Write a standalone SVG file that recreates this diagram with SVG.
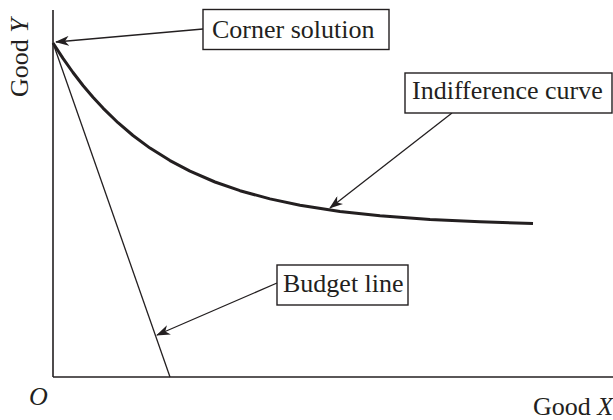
<svg xmlns="http://www.w3.org/2000/svg" width="613" height="420" viewBox="0 0 613 420">
<style>
.ax{stroke:#231f20;stroke-width:1.6;fill:none}
.thin{stroke:#231f20;stroke-width:1.3;fill:none}
.curve{stroke:#231f20;stroke-width:3;fill:none;stroke-linejoin:round;stroke-linecap:butt}
.box{fill:#fff;stroke:#231f20;stroke-width:1.4}
.lbl{font-family:"Liberation Serif","Times New Roman",serif;font-size:26px;fill:#231f20}
.conn{stroke:#231f20;stroke-width:1.3;fill:none;marker-end:url(#ah)}
</style>
<defs>
<marker id="ah" viewBox="0 0 14 10" refX="13" refY="5" markerWidth="14" markerHeight="10" markerUnits="userSpaceOnUse" orient="auto">
<path d="M0,0 L14,5 L0,10 L4,5 z" fill="#231f20"/>
</marker>
</defs>
<g id="axes">
<line class="ax" x1="53" y1="10" x2="53" y2="377"/>
<line class="ax" x1="53" y1="377" x2="613" y2="377"/>
<text class="lbl" transform="translate(28,97) rotate(-90)">Good <tspan font-style="italic">Y</tspan></text>
<text class="lbl" x="29" y="405" font-style="italic">O</text>
<text class="lbl" x="533" y="415">Good <tspan font-style="italic">X</tspan></text>
</g>
<g id="budget-line">
<line class="thin" x1="53" y1="43" x2="170" y2="377"/>
</g>
<g id="indifference-curve">
<polyline class="curve" points="53,43 63,58.4 73,72.5 83,85.5 93,97.3 103,108.1 118,122.7 133,135.5 150,148.1 170,160.6 190,171.2 215,182 240,190.7 270,198.9 300,205.2 340,211.4 380,215.7 430,219.4 480,221.7 533,223.5"/>
</g>
<g id="connectors">
<line class="conn" x1="203" y1="29" x2="56" y2="42"/>
<line class="conn" x1="452" y1="113" x2="330" y2="208"/>
<line class="conn" x1="277" y1="283" x2="157" y2="335"/>
</g>
<g id="corner-solution">
<rect class="box" x="203" y="9.5" width="186" height="40"/>
<text class="lbl" x="212" y="38">Corner solution</text>
</g>
<g id="indifference-label">
<rect class="box" x="405" y="73" width="207" height="40"/>
<text class="lbl" x="412" y="99">Indifference curve</text>
</g>
<g id="budget-label">
<rect class="box" x="277" y="265" width="131" height="40"/>
<text class="lbl" x="283" y="292">Budget line</text>
</g>
</svg>
